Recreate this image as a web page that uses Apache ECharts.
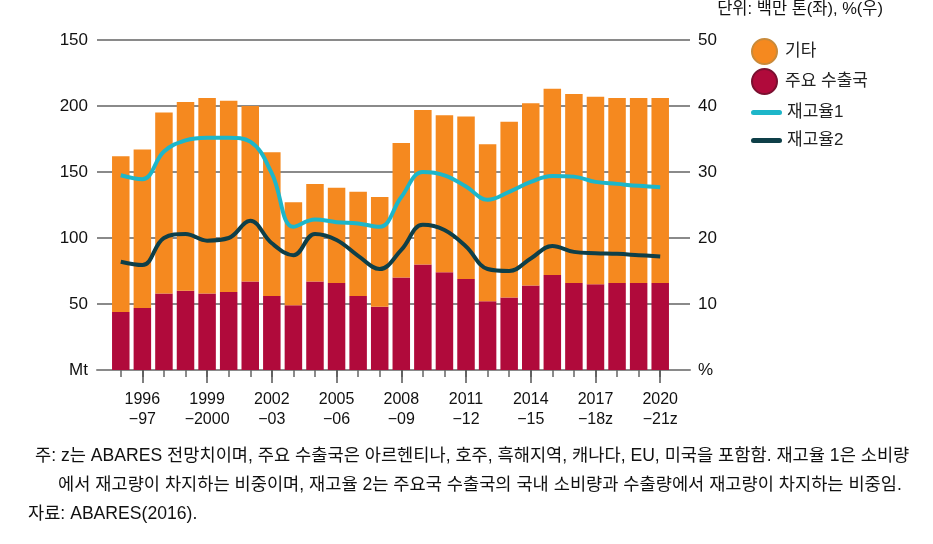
<!DOCTYPE html>
<html><head><meta charset="utf-8">
<script src="https://cdn.jsdelivr.net/npm/echarts@6/dist/echarts.min.js"></script>
<style>html,body{margin:0;padding:0;background:#fff;}#c{width:933px;height:544px;}</style>
</head><body><div id="c"></div>
<script>
const categories = ['1995–96','1996–97','1997–98','1998–99','1999–2000','2000–01','2001–02','2002–03','2003–04','2004–05','2005–06','2006–07','2007–08','2008–09','2009–10','2010–11','2011–12','2012–13','2013–14','2014–15','2015–16','2016–17','2017–18z','2018–19z','2019–20z','2020–21z'];
const mainExporters = [44,47,58,60,58,59,67,56,49,67,66,56,48,70,80,74,69,52,55,64,72,66,65,66,66,66];
const others = [118,120,137,143,148,145,133,109,78,74,72,79,83,102,117,119,123,119,133,138,141,143,142,140,140,140];
const ratio1 = [29.5,28.9,33.1,34.8,35.2,35.2,34.6,29.8,21.7,22.8,22.4,22.2,21.7,26.2,30.0,29.5,27.8,25.8,27.0,28.5,29.4,29.3,28.5,28.2,27.9,27.7];
const ratio2 = [16.4,15.9,20.0,20.6,19.6,20.0,22.6,19.2,17.4,20.6,19.7,17.3,15.3,18.2,22.0,21.2,18.7,15.3,15.0,16.9,18.8,17.9,17.7,17.6,17.4,17.2];
const leftTickLabels = ['Mt','50','100','150','200','150'];
const rightTickLabels = ['%','10','20','30','40','50'];
const seriesNames = ['기타','주요 수출국','재고율1','재고율2'];
const unitText = '단위: 백만 톤(좌), %(우)';
const noteLines = ['주: z는 ABARES 전망치이며, 주요 수출국은 아르헨티나, 호주, 흑해지역, 캐나다, EU, 미국을 포함함. 재고율 1은 소비량',
  '에서 재고량이 차지하는 비중이며, 재고율 2는 주요국 수출국의 국내 소비량과 수출량에서 재고량이 차지하는 비중임.',
  '자료: ABARES(2016).'];

const FONT = '"Liberation Sans", "Noto Sans CJK KR", sans-serif';
const ORANGE = '#f5891f', RED = '#b00a3b', CYAN = '#1db6c9', DARK = '#0e3f48', GRID = '#8a8a8a';
const LINE_ICON = 'path://M2,0H28A2,2 0 0 1 28,5H2A2,2 0 0 1 2,0Z';
const chart = echarts.init(document.getElementById('c'));
const labelInt = (i) => i % 3 === 1;
const legendItems = [
  { name: seriesNames[0], icon: 'circle', itemStyle: { color: ORANGE, borderColor: '#c98a3a', borderWidth: 2 } },
  { name: seriesNames[1], icon: 'circle', itemStyle: { color: RED, borderColor: '#7a1030', borderWidth: 2 } },
  { name: seriesNames[2], icon: LINE_ICON, itemStyle: { color: CYAN } },
  { name: seriesNames[3], icon: LINE_ICON, itemStyle: { color: DARK } }
];
const legendTops = [33, 63, 99, 127];
chart.setOption({
  animation: false,
  textStyle: { fontFamily: FONT },
  grid: [
    { left: 97, right: 243, top: 40, bottom: 174 },
    { left: 110, right: 262, top: 40, bottom: 174 }
  ],
  legend: legendItems.map((it, i) => ({
    orient: 'vertical', left: 746, top: legendTops[i], itemWidth: 31, itemHeight: 25,
    textStyle: { fontSize: 17, color: '#222', fontFamily: FONT },
    data: [it]
  })),
  xAxis: [
    { gridIndex: 0, type: 'value', min: 0, max: 1, axisLine: { show: true, lineStyle: { color: GRID, width: 2 } },
      axisTick: { show: false }, axisLabel: { show: false }, splitLine: { show: false } },
    { gridIndex: 1, type: 'category', data: categories, axisLine: { show: false },
      axisTick: { show: true, alignWithLabel: true, interval: 0, length: 7, lineStyle: { color: '#666', width: 1.5 } },
      axisLabel: { show: false, interval: 0 } },
    { gridIndex: 1, type: 'category', data: categories, position: 'bottom', axisLine: { show: false },
      axisTick: { show: true, alignWithLabel: true, interval: labelInt, length: 13, lineStyle: { color: '#555', width: 1.5 } },
      axisLabel: { interval: labelInt, fontSize: 16, color: '#111', margin: 20, lineHeight: 20,
        formatter: (v) => v.replace('–', '\n−') } }
  ],
  yAxis: [
    { gridIndex: 0, type: 'value', min: 0, max: 250, interval: 50, axisLine: { show: false }, axisTick: { show: false },
      splitLine: { lineStyle: { color: GRID, width: 2 } },
      axisLabel: { fontSize: 17, color: '#111', margin: 9, formatter: (v) => leftTickLabels[Math.round(v / 50)] } },
    { gridIndex: 0, type: 'value', min: 0, max: 50, interval: 10, position: 'right', axisLine: { show: false }, axisTick: { show: false },
      splitLine: { show: false },
      axisLabel: { fontSize: 17, color: '#111', margin: 8, formatter: (v) => rightTickLabels[Math.round(v / 10)] } },
    { gridIndex: 1, type: 'value', min: 0, max: 250, show: false },
    { gridIndex: 1, type: 'value', min: 0, max: 50, show: false }
  ],
  series: [
    { name: seriesNames[1], type: 'bar', xAxisIndex: 1, yAxisIndex: 2, stack: 's', barWidth: 17.5, data: mainExporters, itemStyle: { color: RED } },
    { name: seriesNames[0], type: 'bar', xAxisIndex: 1, yAxisIndex: 2, stack: 's', barWidth: 17.5, data: others, itemStyle: { color: ORANGE } },
    { name: seriesNames[2], type: 'line', xAxisIndex: 1, yAxisIndex: 3, smooth: 0.4, symbol: 'none', data: ratio1, lineStyle: { color: CYAN, width: 4 }, itemStyle: { color: CYAN } },
    { name: seriesNames[3], type: 'line', xAxisIndex: 1, yAxisIndex: 3, smooth: 0.4, symbol: 'none', data: ratio2, lineStyle: { color: DARK, width: 4 }, itemStyle: { color: DARK } }
  ],
  graphic: [
    { type: 'text', right: 50, top: 1, style: { text: unitText, font: '16.5px ' + FONT, fill: '#111' } },
    { type: 'text', left: 35, top: 447, style: { text: noteLines[0], font: '17.6px ' + FONT, fill: '#111' } },
    { type: 'text', left: 58, top: 476, style: { text: noteLines[1], font: '17.6px ' + FONT, fill: '#111' } },
    { type: 'text', left: 28, top: 505, style: { text: noteLines[2], font: '17.6px ' + FONT, fill: '#111' } }
  ]
});
</script></body></html>
